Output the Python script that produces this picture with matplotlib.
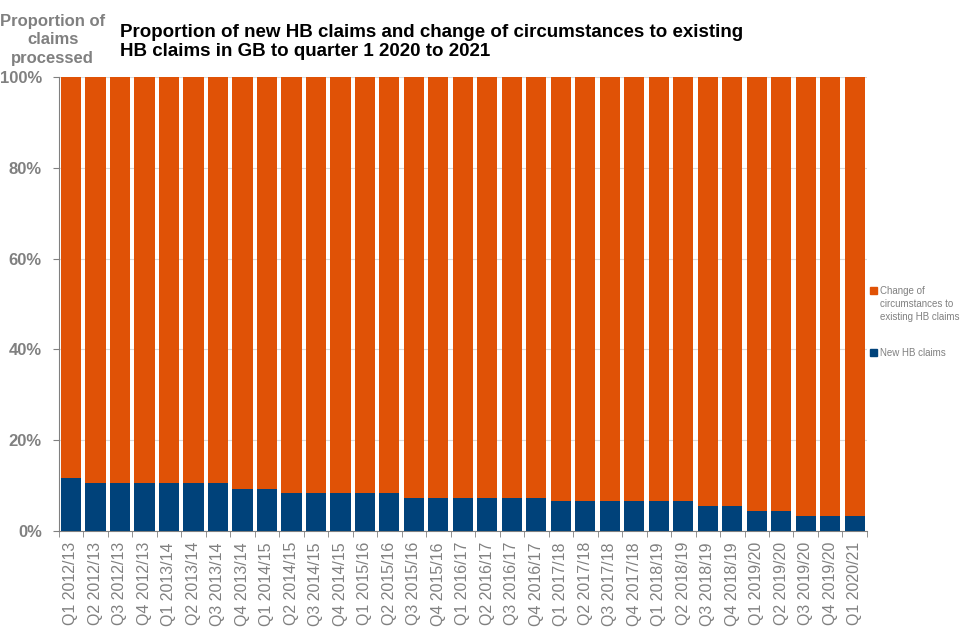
import matplotlib

matplotlib.use("Agg")
import matplotlib.pyplot as plt
from matplotlib.patches import Rectangle
import numpy as np

plt.rcParams["font.family"] = ["Liberation Sans", "DejaVu Sans"]

quarters = [
    "Q1 2012/13", "Q2 2012/13", "Q3 2012/13", "Q4 2012/13",
    "Q1 2013/14", "Q2 2013/14", "Q3 2013/14", "Q4 2013/14",
    "Q1 2014/15", "Q2 2014/15", "Q3 2014/15", "Q4 2014/15",
    "Q1 2015/16", "Q2 2015/16", "Q3 2015/16", "Q4 2015/16",
    "Q1 2016/17", "Q2 2016/17", "Q3 2016/17", "Q4 2016/17",
    "Q1 2017/18", "Q2 2017/18", "Q3 2017/18", "Q4 2017/18",
    "Q1 2018/19", "Q2 2018/19", "Q3 2018/19", "Q4 2018/19",
    "Q1 2019/20", "Q2 2019/20", "Q3 2019/20", "Q4 2019/20",
    "Q1 2020/21",
]
# share of new HB claims (%), rest is change of circumstances
new_claims = [
    11.6, 10.5, 10.5, 10.5, 10.5, 10.5, 10.5, 9.3,
    9.3, 8.4, 8.4, 8.4, 8.4, 8.4, 7.3, 7.3,
    7.3, 7.3, 7.3, 7.3, 6.5, 6.5, 6.5, 6.5,
    6.5, 6.5, 5.4, 5.4, 4.5, 4.5, 3.3, 3.3,
    3.3,
]
change_circ = [100 - v for v in new_claims]

BLUE = "#00427A"
ORANGE = "#E05206"
GREY = "#808080"

fig = plt.figure(figsize=(9.6, 6.4), dpi=100)
ax = fig.add_axes([0.0611, 0.1703, 0.842, 0.7094])

x = np.arange(len(quarters))
ax.bar(x, new_claims, width=0.83, color=BLUE, zorder=3)
ax.bar(x, change_circ, width=0.83, bottom=new_claims, color=ORANGE, zorder=3)

ax.set_xlim(-0.5, len(quarters) - 0.5)
ax.set_ylim(0, 100)
ax.set_yticks(range(0, 101, 20))
ax.set_yticklabels([f"{v}%" for v in range(0, 101, 20)], color=GREY,
                   fontsize=12, fontweight="bold")
ax.yaxis.grid(True, color="#d9d9d9", lw=0.8, zorder=0)

ax.set_xticks(x)
ax.set_xticklabels(quarters, rotation=90, color=GREY, fontsize=11.5)
ax.tick_params(axis="x", length=0, pad=8)
ax.set_xticks(np.arange(-0.5, len(quarters), 1), minor=True)
ax.tick_params(axis="x", which="minor", length=4, color=GREY)
ax.tick_params(axis="y", length=4, color=GREY, pad=8)

for s in ("top", "right"):
    ax.spines[s].set_visible(False)
for s in ("left", "bottom"):
    ax.spines[s].set_color(GREY)

fig.text(0.055, 0.978, "Proportion of\nclaims\nprocessed", ha="center", va="top",
         color=GREY, fontsize=12, fontweight="bold", linespacing=1.28)
fig.text(0.125, 0.963,
         "Proportion of new HB claims and change of circumstances to existing\n"
         "HB claims in GB to quarter 1 2020 to 2021",
         ha="left", va="top", fontsize=13.5, fontweight="bold", linespacing=1.15)

# legend, swatch aligned with the first text line like the original
legend_items = [
    (ORANGE, "Change of\ncircumstances to\nexisting HB claims", 0.553),
    (BLUE, "New HB claims", 0.456),
]
for color, label, ytop in legend_items:
    fig.add_artist(Rectangle((0.9065, ytop - 0.0125), 0.0075, 0.0112,
                             transform=fig.transFigure, color=color))
    fig.text(0.9165, ytop, label, ha="left", va="top", fontsize=7,
             color=GREY, linespacing=1.35)

fig.savefig("out.png", dpi=100, facecolor="white")
